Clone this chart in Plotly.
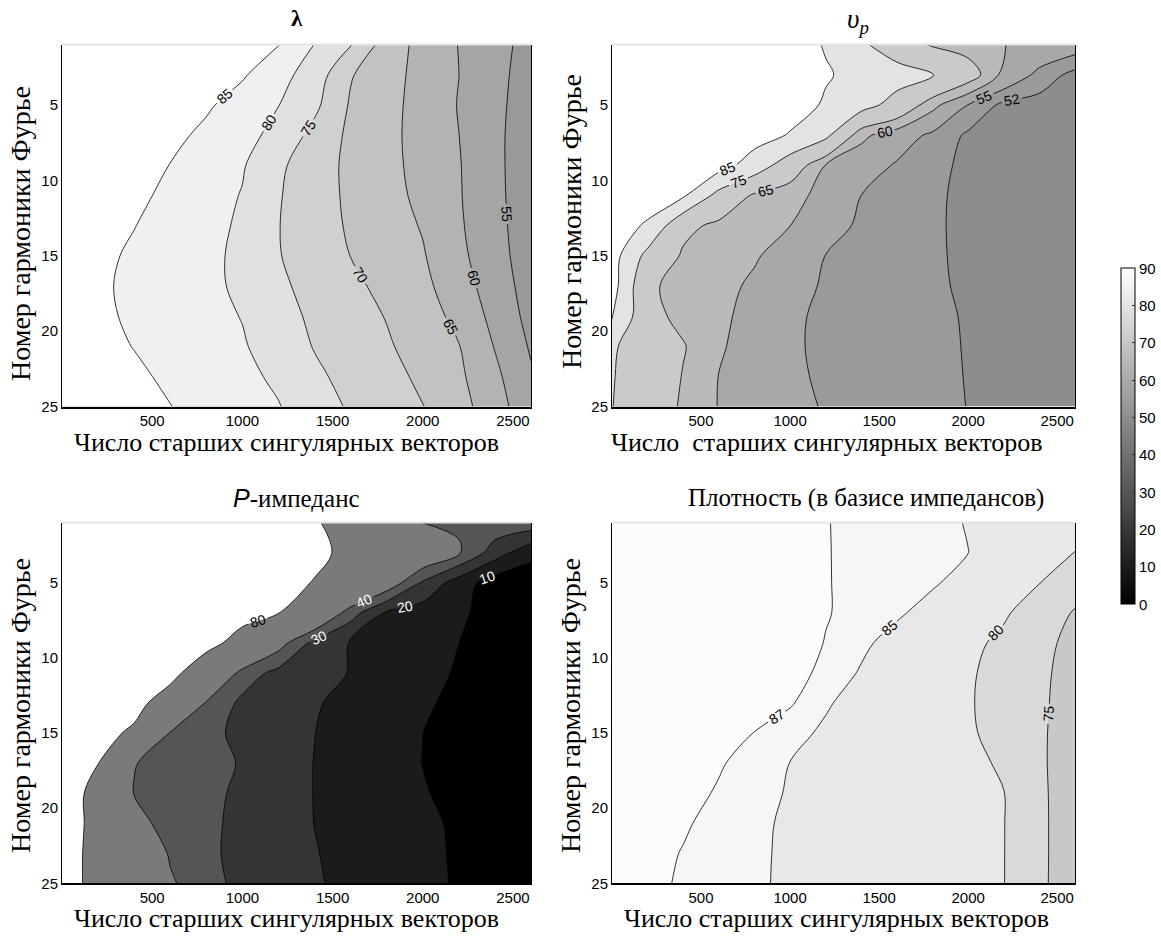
import plotly.graph_objects as go

# ---------------- data ----------------
X_VECTORS = [0, 200, 400, 600, 800, 1000, 1200, 1400, 1600, 1800, 2000, 2200, 2400, 2600]
Y_HARMONICS = [1, 3, 5, 7, 9, 11, 13, 15, 17, 19, 21, 23, 25]

X_TICKS = [500, 1000, 1500, 2000, 2500]
Y_TICKS = [5, 10, 15, 20, 25]
CBAR_TICKS = [0, 10, 20, 30, 40, 50, 60, 70, 80, 90]
CBAR_RANGE = [0, 90]

# lambda
LAMBDA_LEVELS = [55, 60, 65, 70, 75, 80, 85]
LAMBDA_BAND_COLORS = ["#999999", "#a5a5a5", "#b3b3b3", "#c2c2c2", "#d0d0d0", "#e0e0e0", "#f0f0f0", "#ffffff"]
LAMBDA_Z = [
    [89.5, 89.5, 89.5, 89.5, 89.5, 89.5, 85.19, 79.91, 75.34, 67.59, 63.44, 59.87, 56.62, 53.38],
    [89.5, 89.5, 89.5, 89.5, 89.44, 85.56, 81.69, 77.72, 70.36, 66.79, 63.45, 60.03, 56.44, 52.84],
    [89.5, 89.5, 89.5, 88.48, 85.68, 82.89, 80.10, 76.12, 69.48, 66.48, 63.25, 59.78, 56.19, 52.59],
    [89.5, 89.5, 88.62, 86.28, 83.95, 81.61, 78.52, 73.51, 68.98, 66.26, 63.27, 60.03, 56.10, 52.17],
    [89.5, 89.37, 87.14, 84.90, 82.66, 80.43, 75.93, 72.13, 68.97, 66.35, 63.46, 60.29, 56.18, 51.97],
    [89.5, 88.09, 86.04, 83.99, 81.94, 79.76, 75.37, 72.07, 69.12, 66.65, 63.84, 60.38, 56.26, 52.06],
    [88.72, 86.92, 85.11, 83.30, 81.49, 79.28, 75.14, 72.18, 69.41, 67.11, 64.66, 60.64, 56.47, 52.27],
    [87.59, 85.98, 84.37, 82.76, 81.15, 78.94, 75.24, 72.55, 69.94, 67.66, 65.38, 61.19, 56.81, 52.5],
    [87.17, 85.65, 84.14, 82.62, 81.10, 79.12, 75.91, 73.37, 71.08, 68.68, 66.16, 62.29, 57.51, 52.95],
    [87.31, 85.83, 84.35, 82.87, 81.40, 79.83, 76.78, 74.11, 71.97, 69.78, 67.07, 63.73, 58.52, 53.49],
    [87.83, 86.35, 84.87, 83.39, 81.91, 80.43, 77.77, 74.75, 72.66, 70.56, 67.96, 65.17, 59.76, 54.47],
    [88.87, 87.33, 85.78, 84.23, 82.69, 81.14, 79.16, 75.91, 73.52, 71.47, 69.10, 65.92, 61.10, 55.56],
    [89.5, 88.34, 86.71, 85.09, 83.47, 81.84, 80.22, 77.28, 74.41, 72.28, 70.14, 66.75, 62.23, 56.47],
]

# v_p
VP_LEVELS = [52, 55, 60, 65, 75, 85]
VP_BAND_COLORS = ["#8d8d8d", "#9a9a9a", "#a8a8a8", "#bababa", "#cacaca", "#e3e3e3", "#ffffff"]
VP_Z = [
    [89, 89, 89, 89, 89, 89, 84.4, 76.6, 69.3, 64.2, 62.15, 60.1, 58.5, 57],
    [89, 89, 89, 89, 89, 89, 85.75, 82.4, 79.1, 75.8, 68.5, 58.5, 53.9, 51.0],
    [89, 89, 89, 89, 89, 89, 84.0, 78.7, 71.4, 61.45, 54.9, 51.2, 50.8, 50.5],
    [89, 89, 89, 89, 89, 84.35, 77.2, 61.2, 57.2, 54.2, 51.5, 51.0, 50.7, 50.5],
    [89, 89, 89, 89, 80.4, 69.7, 59.8, 57.05, 54.6, 52.9, 51.3, 51.0, 50.7, 50.5],
    [89, 89, 86.3, 71.8, 63.96, 61.5, 58.6, 54.99, 53.76, 52.5, 51.3, 51.0, 50.7, 50.5],
    [89, 84, 66.9, 63.5, 61.8, 60.03, 56.55, 54.4, 53.4, 52.4, 51.35, 51.0, 50.7, 50.5],
    [89, 72.1, 64.1, 62.3, 60.5, 57.8, 54.94, 54.07, 53.2, 52.35, 51.5, 51.1, 50.8, 50.5],
    [89, 65.9, 63.3, 61.4, 59.2, 56.3, 54.6, 53.85, 53.1, 52.4, 51.6, 51.2, 50.9, 50.6],
    [86, 67.1, 63.3, 61.0, 58.4, 55.5, 54.45, 53.8, 53.1, 52.5, 51.8, 51.3, 51.0, 50.7],
    [76, 70.4, 65.4, 60.6, 57.85, 55.4, 54.45, 53.8, 53.16, 52.5, 51.87, 51.4, 51.0, 50.7],
    [75.5, 69.9, 64.7, 59.9, 57.7, 55.6, 54.5, 53.9, 53.2, 52.6, 51.9, 51.4, 51.0, 50.7],
    [75.2, 69.5, 64.1, 59.8, 57.95, 56.1, 54.7, 54.0, 53.3, 52.65, 51.95, 51.5, 51.1, 50.8],
]

# P-impedance
PIMP_LEVELS = [10, 20, 30, 40, 80]
PIMP_BAND_COLORS = ["#000000", "#1b1b1b", "#343434", "#555555", "#7a7a7a", "#ffffff"]
PIMP_LABEL_COLORS = ["white", "white", "white", "white", "black"]
PIMP_Z = [
    [88, 88, 88, 88, 88, 88, 88, 82.7, 67.55, 52.4, 39.7, 38.5, 37, 36],
    [88, 88, 88, 88, 88, 88, 88, 85.3, 74.3, 63.25, 52.2, 41.2, 25.0, 13],
    [88, 88, 88, 88, 88, 88, 88, 78.9, 63.4, 48.0, 28.6, 15.1, 5.0, 4],
    [88, 88, 88, 88, 88, 88, 80.8, 57.2, 34.5, 18.9, 15.1, 11.2, 7.3, 4],
    [88, 88, 88, 88, 88, 70.8, 44.8, 26.8, 19.3, 16.2, 13.1, 10.03, 7, 4],
    [88, 88, 88, 88, 62.6, 35.5, 27.0, 23.3, 19.6, 16.1, 12.6, 9.2, 6.5, 4],
    [88, 88, 88, 67.2, 38.8, 27.8, 24.3, 20.8, 17.5, 14.4, 11.2, 8.0, 5.5, 3.5],
    [88, 88, 76, 39.1, 32.6, 27.7, 23.9, 20.1, 16.75, 13.4, 10.05, 7, 5, 3],
    [88, 80.3, 40.4, 36.5, 33.0, 29.3, 24.5, 19.8, 16.5, 13.2, 9.9, 7, 5, 3],
    [88, 75, 39.6, 35.9, 32.2, 28.3, 24.0, 19.8, 16.7, 13.6, 10.5, 8, 5.5, 3.5],
    [88, 75, 43, 36.8, 31.9, 27.7, 23.8, 19.9, 17.2, 14.4, 11.6, 8.8, 6, 4],
    [88, 74, 54.1, 38.7, 31.8, 27.4, 23.9, 20.4, 17.5, 14.7, 11.9, 9.0, 6.5, 4.5],
    [88, 74, 56.9, 41.6, 32.8, 27.7, 24.3, 20.9, 17.8, 14.9, 12.05, 9.2, 7, 5],
]

# density
DENS_LEVELS = [75, 80, 85, 87]
DENS_BAND_COLORS = ["#c8c8c8", "#d9d9d9", "#e8e8e8", "#f6f6f6", "#fcfcfc"]
DENS_Z = [
    [88.5, 88.5, 88.5, 88.5, 88.5, 88.5, 87.07, 86.55, 86.0, 85.5, 84.9, 83.6, 82.3, 81],
    [88.5, 88.5, 88.5, 88.5, 88.5, 88.5, 87.08, 86.57, 86.05, 85.54, 85.02, 83.36, 81.66, 79.96],
    [88.5, 88.5, 88.5, 88.5, 88.5, 88.5, 87.1, 86.5, 85.9, 85.3, 84.0, 82.06, 80.09, 77.5],
    [88.5, 88.5, 88.5, 88.5, 88.5, 88.5, 87.15, 86.27, 85.38, 84.02, 82.29, 80.55, 77.8, 74.6],
    [88.5, 88.5, 88.5, 88.5, 88.5, 88.3, 86.9, 85.5, 84.05, 82.5, 81.0, 79.1, 76.4, 73.6],
    [88.5, 88.5, 88.5, 88.5, 88.5, 87.98, 86.36, 84.77, 83.36, 81.95, 80.54, 78.4, 75.9, 73.3],
    [88.5, 88.5, 88.5, 88.5, 88.5, 87.25, 85.28, 83.97, 82.78, 81.58, 80.39, 78.27, 75.7, 73.2],
    [88.5, 88.5, 88.5, 88.15, 86.94, 85.73, 84.6, 83.58, 82.56, 81.55, 80.53, 78.6, 75.67, 72.75],
    [88.5, 88.5, 88.37, 87.23, 86.1, 84.97, 84.13, 83.28, 82.44, 81.6, 80.75, 79.6, 75.83, 72.06],
    [88.5, 88.5, 87.78, 86.77, 85.76, 84.8, 84.01, 83.22, 82.43, 81.65, 80.86, 80.07, 76.07, 71.8],
    [88.5, 88.12, 87.24, 86.35, 85.46, 84.63, 83.88, 83.12, 82.37, 81.62, 80.86, 80.11, 76.16, 71.7],
    [88.4, 87.67, 86.9, 86.14, 85.37, 84.61, 83.86, 83.11, 82.36, 81.61, 80.86, 80.1, 76.16, 71.7],
    [88.2, 87.48, 86.77, 86.05, 85.33, 84.6, 83.85, 83.1, 82.35, 81.6, 80.85, 80.1, 76.13, 71.6],
]

TITLES = [
    "<b>λ</b>",
    "<i>υ<sub>p</sub></i>",
    "<span style='font-family:Liberation Sans'><i>P</i></span>-импеданс",
    "Плотность (в базисе импедансов)",
]
TITLE_SIZES = [23, 27, 25, 25]
X_TITLES = [
    "Число старших сингулярных векторов",
    "Число\u00a0 старших сингулярных векторов",
    "Число старших сингулярных векторов",
    "Число старших сингулярных векторов",
]
Y_TITLE = "Номер гармоники Фурье"

# ---------------- layout geometry (pixels of the 1161x940 page) ----------------
W, H = 1161, 940
PANELS_PX = [  # x0, x1, ytop, ybottom
    (62, 531, 45, 410),
    (612, 1075, 45, 410),
    (62, 531, 527, 891),
    (612, 1075, 527, 891),
]
TITLE_POS = [(297, 19), (858, 21), (296, 502), (866, 502)]     # centre x, centre y
XTITLE_POS = [(286, 446), (826, 446), (286, 926), (836, 926)]
YTITLE_POS = [(21, 236), (571, 224), (21, 712), (571, 712)]

SERIF = "Liberation Serif, Times New Roman, serif"
SANS = "Liberation Sans, Arial, sans-serif"

panels = [
    (LAMBDA_Z, LAMBDA_LEVELS, LAMBDA_BAND_COLORS, ["black"] * len(LAMBDA_LEVELS)),
    (VP_Z, VP_LEVELS, VP_BAND_COLORS, ["black"] * len(VP_LEVELS)),
    (PIMP_Z, PIMP_LEVELS, PIMP_BAND_COLORS, PIMP_LABEL_COLORS),
    (DENS_Z, DENS_LEVELS, DENS_BAND_COLORS, ["black"] * len(DENS_LEVELS)),
]

fig = go.Figure()
layout = dict(
    width=W, height=H, margin=dict(l=0, r=0, t=0, b=0),
    paper_bgcolor="white", plot_bgcolor="white", showlegend=False,
)
annotations = []
shapes = []


def px_x(v):
    return v / W


def px_y(v):
    return 1 - v / H


for k, (z, levels, colors, lab_colors) in enumerate(panels):
    n = k + 1
    xa = "x" if n == 1 else f"x{n}"
    ya = "y" if n == 1 else f"y{n}"
    x0, x1, yt, yb = PANELS_PX[k]
    for i, lev in enumerate(levels):
        bg = colors[0] if i == 0 else "rgba(255,255,255,0)"
        fig.add_trace(go.Contour(
            x=X_VECTORS, y=Y_HARMONICS, z=z, xaxis=xa, yaxis=ya,
            autocontour=False, showscale=False, hoverinfo="skip",
            colorscale=[[0, bg], [1, colors[i + 1]]],
            contours=dict(start=lev, end=lev, size=1, coloring="fill",
                          showlabels=True,
                          labelfont=dict(family=SANS, size=14, color=lab_colors[i])),
            line=dict(color="black", width=0.8, smoothing=1.0),
        ))
    axkey = "xaxis" if n == 1 else f"xaxis{n}"
    aykey = "yaxis" if n == 1 else f"yaxis{n}"
    layout[axkey] = dict(
        domain=[px_x(x0), px_x(x1)], anchor=ya, range=[0, 2600],
        tickvals=X_TICKS, ticks="", showgrid=False, zeroline=False,
        showline=True, linecolor="black", linewidth=1.5, mirror=False,
        tickfont=dict(family=SANS, size=15, color="black"),
    )
    layout[aykey] = dict(
        domain=[px_y(yb), px_y(yt)], anchor=xa, range=[25, 1],
        tickvals=Y_TICKS, ticks="", showgrid=False, zeroline=False,
        showline=True, linecolor="black", linewidth=1, mirror=True,
        tickfont=dict(family=SANS, size=15, color="black"),
    )
    shapes.append(dict(type="line", xref=f"{xa} domain", yref=f"{ya} domain",
                       x0=0, x1=1, y0=1, y1=1, line=dict(color="#e4e4e4", width=2)))
    tx, ty = TITLE_POS[k]
    annotations.append(dict(
        text=TITLES[k], x=px_x(tx), y=px_y(ty), xref="paper", yref="paper",
        showarrow=False, xanchor="center", yanchor="middle",
        font=dict(family=SERIF, size=TITLE_SIZES[k], color="black")))
    tx, ty = XTITLE_POS[k]
    annotations.append(dict(
        text=X_TITLES[k], x=px_x(tx), y=px_y(ty), xref="paper", yref="paper",
        showarrow=False, xanchor="center", yanchor="middle",
        font=dict(family=SERIF, size=26, color="black")))
    tx, ty = YTITLE_POS[k]
    annotations.append(dict(
        text=Y_TITLE, x=px_x(tx), y=px_y(ty), xref="paper", yref="paper",
        showarrow=False, xanchor="center", yanchor="middle", textangle=-90,
        font=dict(family=SERIF, size=28, color="black")))

# colour bar
fig.add_trace(go.Scatter(
    x=[1300, 1300], y=[13, 13], xaxis="x", yaxis="y", mode="markers",
    hoverinfo="skip",
    marker=dict(size=1, opacity=0, color=CBAR_RANGE, cmin=0, cmax=90,
                colorscale=[[0, "black"], [1, "white"]], showscale=True,
                colorbar=dict(
                    x=px_x(1121), xanchor="left", y=px_y(440), yanchor="middle",
                    thickness=14, thicknessmode="pixels", len=336, lenmode="pixels",
                    ypad=0, xpad=0,
                    tickvals=CBAR_TICKS, ticks="inside", ticklen=3, tickcolor="#333",
                    outlinecolor="black", outlinewidth=1,
                    tickfont=dict(family=SANS, size=15, color="black"),
                )),
))

layout["annotations"] = annotations
layout["shapes"] = shapes
fig.update_layout(**layout)

fig.write_html("out.html", config={"displayModeBar": False},
               post_script="document.body.style.margin='0px';")
